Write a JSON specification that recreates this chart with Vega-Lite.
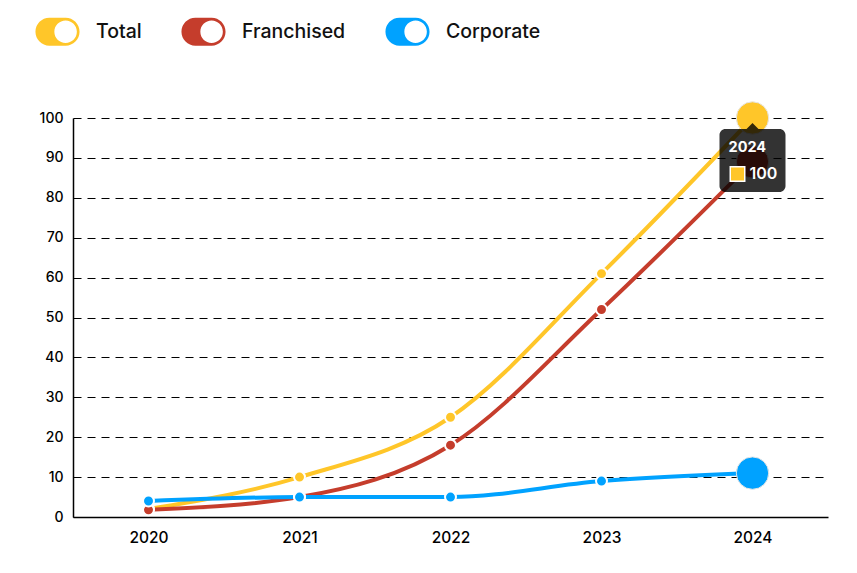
{
  "$schema": "https://vega.github.io/schema/vega-lite/v6.json",
  "width": 755,
  "height": 399,
  "autosize": {"type": "none"},
  "padding": {"left": 73, "top": 118, "right": 29, "bottom": 56},
  "background": "white",
  "config": {
    "view": {"stroke": null},
    "font": "Inter"
  },
  "datasets": {
    "main": [
      {"year": "2020", "series": "Total", "value": 2},
      {"year": "2021", "series": "Total", "value": 10},
      {"year": "2022", "series": "Total", "value": 25},
      {"year": "2023", "series": "Total", "value": 61},
      {"year": "2024", "series": "Total", "value": 100},
      {"year": "2020", "series": "Franchised", "value": 1.8},
      {"year": "2021", "series": "Franchised", "value": 5},
      {"year": "2022", "series": "Franchised", "value": 18},
      {"year": "2023", "series": "Franchised", "value": 52},
      {"year": "2024", "series": "Franchised", "value": 89},
      {"year": "2020", "series": "Corporate", "value": 4},
      {"year": "2021", "series": "Corporate", "value": 5},
      {"year": "2022", "series": "Corporate", "value": 5},
      {"year": "2023", "series": "Corporate", "value": 9},
      {"year": "2024", "series": "Corporate", "value": 11}
    ],
    "tip": [
      {"year": "2024", "value": 100, "title": "2024", "label": "100"}
    ]
  },
  "encoding": {
    "x": {
      "field": "year",
      "type": "ordinal",
      "scale": {"type": "point", "padding": 0.5},
      "axis": {
        "title": null,
        "ticks": false,
        "labelAngle": 0,
        "labelFontSize": 15.5,
        "labelFontWeight": 500,
        "labelColor": "#000",
        "labelPadding": 13,
        "domainColor": "#000",
        "domainWidth": 1.5,
        "grid": false
      }
    },
    "y": {
      "field": "value",
      "type": "quantitative",
      "scale": {"domain": [0, 100], "nice": false},
      "axis": {
        "title": null,
        "values": [0, 10, 20, 30, 40, 50, 60, 70, 80, 90, 100],
        "ticks": false,
        "labelFontSize": 14,
        "labelFontWeight": 500,
        "labelColor": "#000",
        "labelPadding": 10,
        "domainColor": "#000",
        "domainWidth": 1.5,
        "grid": true,
        "gridColor": "#000",
        "gridDash": [8, 6],
        "gridWidth": 1.2
      }
    }
  },
  "layer": [
    {
      "data": {"name": "main"},
      "mark": {"type": "line", "interpolate": "monotone", "strokeWidth": 4},
      "encoding": {
        "color": {
          "field": "series",
          "type": "nominal",
          "scale": {"domain": ["Total", "Franchised", "Corporate"], "range": ["#FFC629", "#C53D2C", "#00A2FF"]},
          "legend": {
            "title": null,
            "orient": "none",
            "direction": "horizontal",
            "legendX": -38,
            "legendY": -109,
            "symbolType": "M -0.36 -0.62 L 0.36 -0.62 A 0.62 0.62 0 0 1 0.36 0.62 L -0.36 0.62 A 0.62 0.62 0 0 1 -0.36 -0.62 Z M 0.86 0 A 0.5 0.5 0 0 0 -0.14 0 A 0.5 0.5 0 0 0 0.86 0 Z",
            "symbolSize": 2025,
            "symbolStrokeWidth": 0,
            "symbolOpacity": 1,
            "labelFontSize": 19.5,
            "labelFontWeight": 500,
            "labelColor": "#111",
            "labelOffset": 16,
            "columnPadding": 39,
            "labelFont": "Inter"
          }
        }
      }
    },
    {
      "data": {"name": "main"},
      "mark": {"type": "point", "filled": true, "size": 120, "stroke": "white", "strokeWidth": 2, "opacity": 1, "strokeOpacity": 1},
      "encoding": {
        "fill": {
          "field": "series",
          "type": "nominal",
          "scale": {"domain": ["Total", "Franchised", "Corporate"], "range": ["#FFC629", "#C53D2C", "#00A2FF"]},
          "legend": null
        }
      }
    },
    {
      "data": {"name": "main"},
      "transform": [{"filter": "datum.year === '2024'"}],
      "mark": {"type": "circle", "size": 1050, "opacity": 1, "stroke": "#e6e6e6", "strokeWidth": 1},
      "encoding": {
        "fill": {
          "field": "series",
          "type": "nominal",
          "scale": {"domain": ["Total", "Franchised", "Corporate"], "range": ["#FFBC0A", "#B3321F", "#0091E6"]},
          "legend": null
        }
      }
    },
    {
      "data": {"name": "tip"},
      "mark": {
        "type": "point",
        "filled": true,
        "size": 4,
        "fill": "#000",
        "opacity": 0.8,
        "strokeWidth": 0,
        "shape": "M 0 5 L 6 11 L 27 11 A 6 6 0 0 1 33 17 L 33 68 A 6 6 0 0 1 27 74 L -27 74 A 6 6 0 0 1 -33 68 L -33 17 A 6 6 0 0 1 -27 11 L -6 11 Z"
      }
    },
    {
      "data": {"name": "tip"},
      "mark": {"type": "text", "align": "left", "baseline": "middle", "dx": -24, "dy": 30, "fontSize": 14.5, "fontWeight": 700, "color": "white"},
      "encoding": {"text": {"field": "title"}}
    },
    {
      "data": {"name": "tip"},
      "mark": {"type": "point", "shape": "square", "filled": true, "size": 210, "fill": "#FFC629", "stroke": "white", "strokeWidth": 1.5, "opacity": 1, "xOffset": -15, "yOffset": 56}
    },
    {
      "data": {"name": "tip"},
      "mark": {"type": "text", "align": "left", "baseline": "middle", "dx": -3, "dy": 56, "fontSize": 16, "fontWeight": 600, "color": "white"},
      "encoding": {"text": {"field": "label"}}
    }
  ]
}
